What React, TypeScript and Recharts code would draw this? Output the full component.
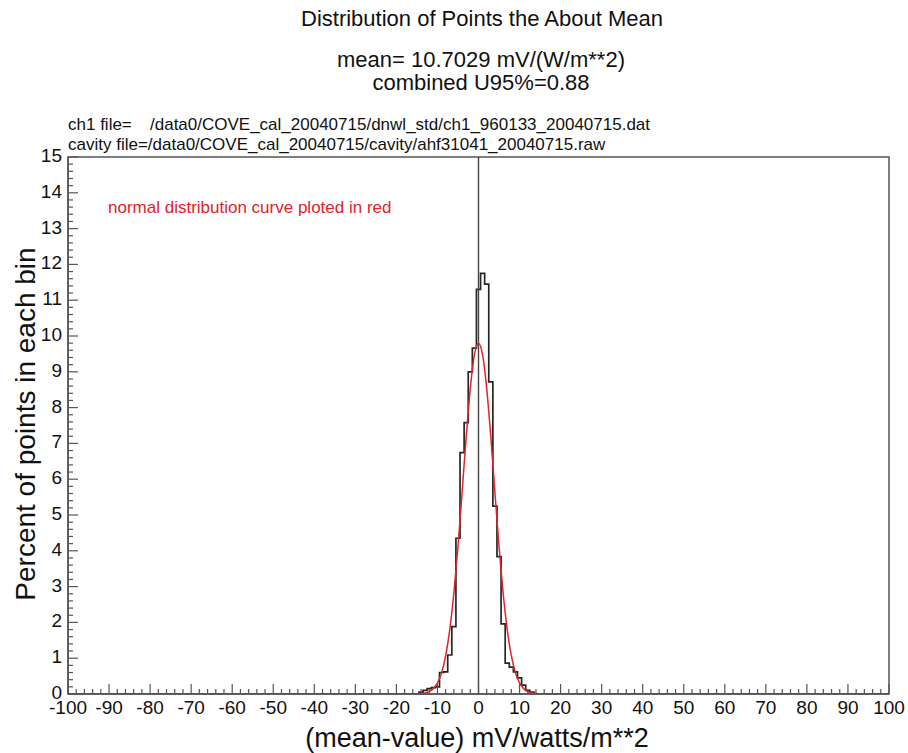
import { ComposedChart, Line, ReferenceArea, ReferenceLine, XAxis, YAxis } from 'recharts'

/** Axis ticks: labelled majors, unlabelled minors between them */
const X_MAJOR = [-100, -90, -80, -70, -60, -50, -40, -30, -20, -10, 0, 10, 20, 30, 40, 50, 60, 70, 80, 90, 100]
const X_MINOR_PARTS = 5
const Y_MAJOR = [0, 1, 2, 3, 4, 5, 6, 7, 8, 9, 10, 11, 12, 13, 14, 15]
const Y_MINOR_PARTS = 5

/** Histogram bins (1 unit wide, centred on the value) and percent of points in each */
const BIN_CENTERS = [-14, -13, -12, -11, -10, -9, -8, -7, -6, -5, -4, -3, -2, -1, 0, 1, 2, 3, 4, 5, 6, 7, 8, 9, 10, 11, 12, 13]
const BIN_PERCENT = [
  0.05, 0.1, 0.15, 0.18, 0.2, 0.6, 0.62, 1.09, 1.88, 4.35, 6.74, 7.58, 9.0, 9.66,
  11.3, 11.75, 11.45, 8.72, 5.25, 3.84, 1.96, 0.86, 0.75, 0.62, 0.45, 0.25, 0.1, 0.05,
]

/** Red normal curve */
const NORMAL_X = [-100, -16, -15, -14, -13, -12, -11, -10, -9, -8, -7, -6, -5, -4, -3, -2, -1, 0, 1, 2, 3, 4, 5, 6, 7, 8, 9, 10, 11, 12, 13, 14, 15, 16, 100]
const NORMAL_PCT = [
  0, 0, 0.004, 0.011, 0.028, 0.067, 0.15, 0.31, 0.59, 1.07, 1.8, 2.82, 4.12, 5.63, 7.18, 8.53, 9.47,
  9.8,
  9.47, 8.53, 7.18, 5.63, 4.12, 2.82, 1.8, 1.07, 0.59, 0.31, 0.15, 0.067, 0.028, 0.011, 0.004, 0, 0,
]

const FONT = '"Liberation Sans", Arial, Helvetica, sans-serif'
const AXIS_COLOR = '#555'
const TEXT_COLOR = '#111'

const subdivide = (majors: number[], parts: number) =>
  majors.flatMap((m, i) =>
    i === majors.length - 1
      ? [m]
      : Array.from({ length: parts }, (_, k) => +(m + ((majors[i + 1] - m) * k) / parts).toFixed(4)),
  )

const X_TICKS = subdivide(X_MAJOR, X_MINOR_PARTS)
const Y_TICKS = subdivide(Y_MAJOR, Y_MINOR_PARTS)

// stepAfter: each bin starts at its left edge
const histData = [
  { x: -100, v: 0 },
  ...BIN_CENTERS.map((c, i) => ({ x: c - 0.5, v: BIN_PERCENT[i] })),
  { x: BIN_CENTERS[BIN_CENTERS.length - 1] + 0.5, v: 0 },
  { x: 100, v: 0 },
]
const curveData = NORMAL_X.map((x, i) => ({ x, v: NORMAL_PCT[i] }))

const XTick = (props: any) => {
  const { x, y, payload } = props
  const major = X_MAJOR.includes(payload.value)
  return (
    <g>
      <line x1={x} x2={x} y1={y} y2={y - (major ? 10 : 5)} stroke={AXIS_COLOR} strokeWidth={1.2} />
      {major && (
        <text x={x} y={y + 20} textAnchor="middle" fontSize={19} fontFamily={FONT} fill={TEXT_COLOR}>
          {payload.value}
        </text>
      )}
    </g>
  )
}

const YTick = (props: any) => {
  const { x, y, payload } = props
  const major = Y_MAJOR.includes(payload.value)
  return (
    <g>
      <line x1={x} x2={x + (major ? 10 : 5)} y1={y} y2={y} stroke={AXIS_COLOR} strokeWidth={1.2} />
      {major && (
        <text x={x - 6} y={y + 5} textAnchor="end" fontSize={19} fontFamily={FONT} fill={TEXT_COLOR}>
          {payload.value}
        </text>
      )}
    </g>
  )
}

const W = 908
const H = 753

export default function App() {
  return (
    <div style={{ position: 'absolute', left: 0, top: 0, width: W, height: H, background: '#fff' }}>
      <ComposedChart width={W} height={H} margin={{ top: 157, right: 19, left: 0, bottom: 0 }}>
        <XAxis
          dataKey="x"
          type="number"
          domain={[-100, 100]}
          ticks={X_TICKS}
          interval={0}
          tickSize={0}
          tickMargin={0}
          tickLine={false}
          tick={<XTick />}
          axisLine={{ stroke: AXIS_COLOR, strokeWidth: 1.5 }}
          height={59}
          allowDataOverflow
        />
        <YAxis
          type="number"
          domain={[0, 15]}
          ticks={Y_TICKS}
          interval={0}
          tickSize={0}
          tickMargin={0}
          tickLine={false}
          tick={<YTick />}
          axisLine={{ stroke: AXIS_COLOR, strokeWidth: 1.5 }}
          width={68}
          allowDataOverflow
        />
        <ReferenceArea x1={-100} x2={100} y1={0} y2={15} fill="none" stroke={AXIS_COLOR} strokeWidth={1.5} />
        <Line
          data={histData}
          dataKey="v"
          type="stepAfter"
          stroke="#262626"
          strokeWidth={1.7}
          dot={false}
          activeDot={false}
          isAnimationActive={false}
        />
        <ReferenceLine x={0} stroke="#444" strokeWidth={1.4} />
        <Line
          data={curveData}
          dataKey="v"
          type="monotone"
          stroke="#e2232a"
          strokeWidth={1.5}
          dot={false}
          activeDot={false}
          isAnimationActive={false}
        />
      </ComposedChart>
      <svg
        width={W}
        height={H}
        style={{ position: 'absolute', left: 0, top: 0, pointerEvents: 'none' }}
        fontFamily={FONT}
        fill={TEXT_COLOR}
      >
        <text x={482} y={26} textAnchor="middle" fontSize={22}>
          Distribution of Points the About Mean
        </text>
        <text x={481} y={67} textAnchor="middle" fontSize={22}>
          mean= 10.7029 mV/(W/m**2)
        </text>
        <text x={481} y={90} textAnchor="middle" fontSize={22}>
          combined U95%=0.88
        </text>
        <text x={68} y={130} fontSize={17}>
          <tspan>ch1 file=</tspan>
          <tspan x={150}>/data0/COVE_cal_20040715/dnwl_std/ch1_960133_20040715.dat</tspan>
        </text>
        <text x={68} y={150} fontSize={17}>
          cavity file=/data0/COVE_cal_20040715/cavity/ahf31041_20040715.raw
        </text>
        <text x={108} y={213} fontSize={17} fill="#e2232a">
          normal distribution curve ploted in red
        </text>
        <text x={35} y={424} textAnchor="middle" fontSize={28} transform="rotate(-90 35 424)">
          Percent of points in each bin
        </text>
        <text x={477} y={747} textAnchor="middle" fontSize={27}>
          (mean-value) mV/watts/m**2
        </text>
      </svg>
    </div>
  )
}
